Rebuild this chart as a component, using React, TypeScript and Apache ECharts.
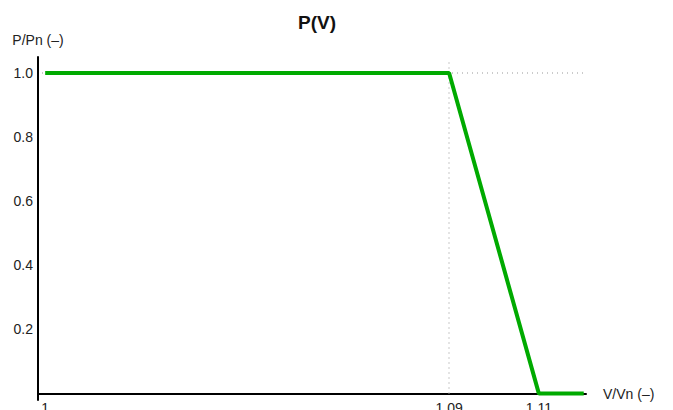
import React, { useEffect, useRef } from "react";
import * as echarts from "echarts";

const xValues = [1, 1.09, 1.11, 1.12];
const yValues = [1, 1, 0, 0];
const xTickValues = [1, 1.09, 1.11];
const yTickValues = [0.2, 0.4, 0.6, 0.8, 1.0];
const titleText = "P(V)";
const xName = "V/Vn (\u2013)";
const yName = "P/Pn (\u2013)";

export default function App() {
  const ref = useRef<HTMLDivElement>(null);
  useEffect(() => {
    document.body.style.margin = "0";
    const chart = echarts.init(ref.current!, null, { renderer: "svg" });
    const font = "Liberation Sans, Arial, sans-serif";
    chart.setOption({
      animation: false,
      title: {
        text: titleText,
        left: 312,
        top: 8,
        textAlign: "center",
        textStyle: { fontFamily: font, fontSize: 19, fontWeight: "bold", color: "#111" },
      },
      grid: { left: 38, right: 87, top: 57, bottom: 10, containLabel: false, outerBoundsMode: "none" },
      xAxis: {
        type: "value",
        min: 0.9984,
        max: 1.1205,
        name: xName,
        nameLocation: "end",
        nameGap: 17,
        nameTextStyle: { fontFamily: font, fontSize: 14, color: "#222" },
        axisLine: { onZero: true, lineStyle: { color: "#000", width: 2 } },
        axisTick: { show: false },
        splitLine: { show: false },
        axisLabel: {
          customValues: xTickValues,
          formatter: (v: number) => String(Number(v.toFixed(2))),
          fontFamily: font,
          fontSize: 14,
          color: "#222",
          margin: 1,
        },
      },
      yAxis: {
        type: "value",
        min: -0.02,
        max: 1.05,
        name: yName,
        nameLocation: "end",
        nameGap: 10,
        nameTextStyle: { fontFamily: font, fontSize: 14, color: "#222", align: "center" },
        axisLine: { show: true, lineStyle: { color: "#000", width: 2 } },
        axisTick: { show: false },
        splitLine: { show: false },
        axisLabel: {
          customValues: yTickValues,
          formatter: (v: number) => v.toFixed(1),
          fontFamily: font,
          fontSize: 14,
          color: "#222",
          margin: 5,
        },
      },
      series: [
        {
          type: "line",
          data: [],
          z: 1,
          markLine: {
            silent: true,
            z: 1,
            symbol: ["none", "none"],
            label: { show: false },
            lineStyle: { color: "#b8b8b8", type: [1, 4], width: 1.5 },
            data: [
              [{ coord: [1.09, 0] }, { coord: [1.09, 1.04] }],
              [{ coord: [0.9993, 1] }, { coord: [1.12, 1] }],
            ],
          },
        },
        {
          type: "line",
          data: xValues.map((x, i) => [x, yValues[i]]),
          showSymbol: false,
          lineStyle: { color: "#00aa00", width: 4 },
          z: 10,
        },
      ],
    });
    return () => chart.dispose();
  }, []);
  return <div ref={ref} style={{ width: 673, height: 410 }} />;
}
